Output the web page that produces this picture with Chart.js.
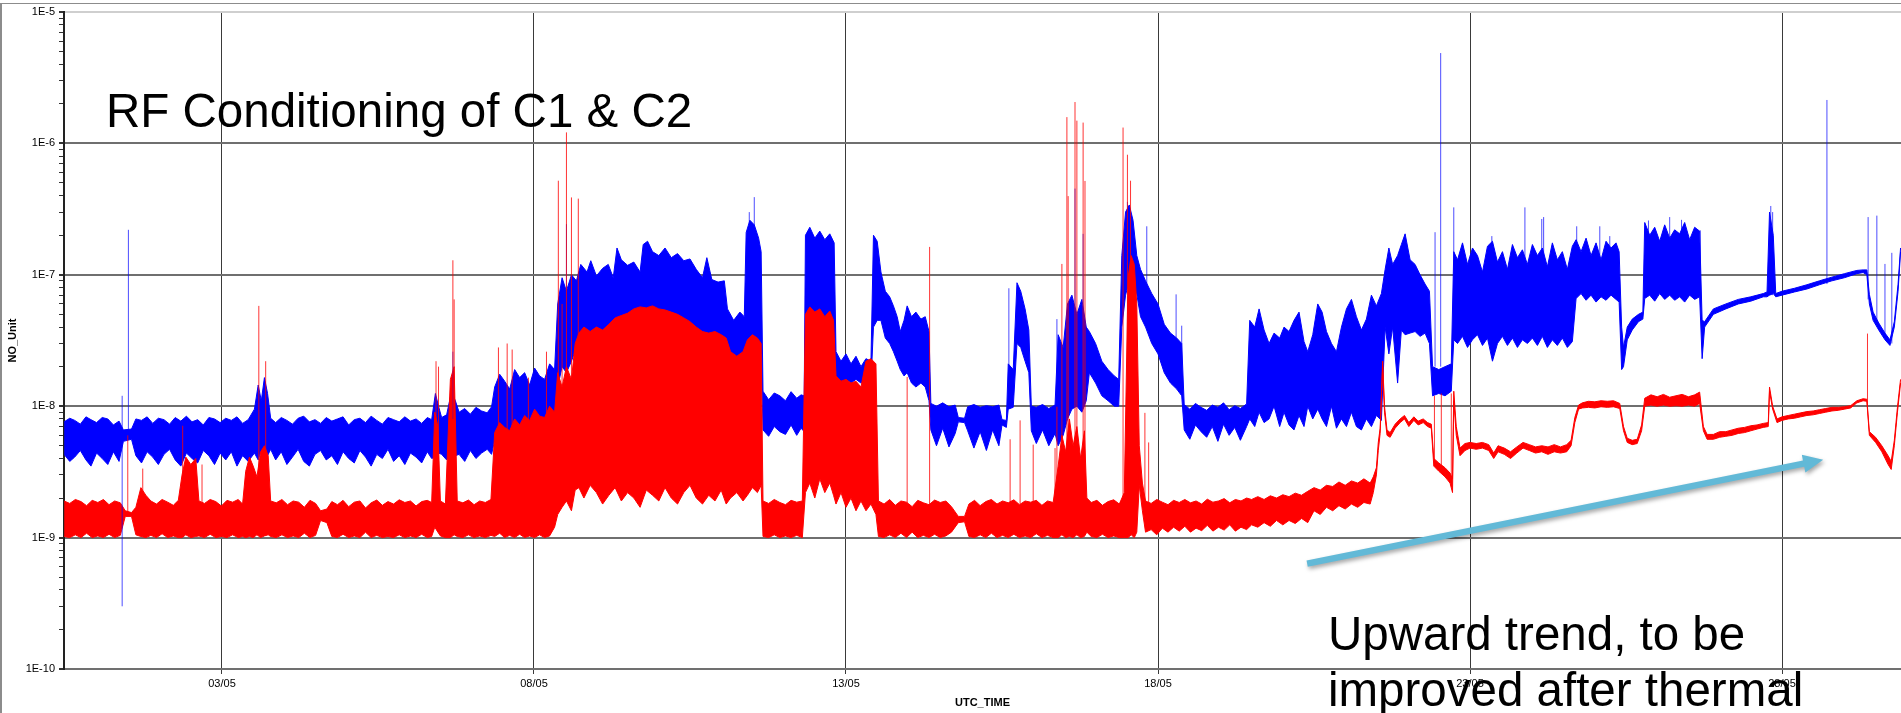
<!DOCTYPE html>
<html>
<head>
<meta charset="utf-8">
<title>RF Conditioning of C1 &amp; C2</title>
<script src="https://cdn.jsdelivr.net/npm/chart.js@4.4.1/dist/chart.umd.min.js"></script>
<style>
  html, body { margin: 0; padding: 0; background: #fff; overflow: hidden; }
  #frame { position: relative; width: 1901px; height: 713px; overflow: hidden; }
  #frame::before { content: ''; position: absolute; left: 0; top: 3px; right: 0; bottom: 0;
    border-top: 1px solid #8c8c8c; border-left: 2px solid #8c8c8c; }
  #chart { position: absolute; left: 0; top: 0; }
  .note { position: absolute; font-family: 'Liberation Sans', Arial, sans-serif; font-size: 47.5px;
    color: #000; white-space: nowrap; }
</style>
</head>
<body>
<div id="frame">
  <canvas id="chart" width="1901" height="713"></canvas>
  <div class="note" style="left:106px; top:87px; line-height:47.5px;">RF Conditioning of C1 &amp; C2</div>
  <div class="note" style="left:1328px; top:606px; line-height:56px;">Upward trend, to be<br>improved after thermal</div>
</div>
<script>
// time axis: day of May (3 = 03/05 00:00); pressure values in units of 1E-9
const NANO = 1e-9;
const dateTicks = [3, 8, 13, 18, 23, 28];
const dateLabels = ['03/05', '08/05', '13/05', '18/05', '23/05', '28/05'];
const decadeExps = [-10, -9, -8, -7, -6, -5];

// [day, low, high] envelope of the blue trace (C1)
const blueBand = [
  [0.47,4.3,7.6],[0.56,3.8,8.1],[0.64,4.1,7.8],[0.73,4.6,7.3],[0.82,3.9,8.3],[0.9,3.5,7.9],[0.99,4.4,7.5],
  [1.08,4.0,8.2],[1.17,3.6,8.0],[1.26,4.5,7.2],[1.35,3.8,7.7],[1.42,5.4,6.6],[1.55,5.6,6.7],[1.62,4.2,8.0],
  [1.71,3.7,7.8],[1.8,4.5,8.3],[1.89,4.1,7.4],[1.98,3.6,8.1],[2.07,4.3,7.9],[2.16,4.7,7.3],[2.25,3.9,8.2],
  [2.34,3.5,7.7],[2.43,4.4,8.4],[2.52,4.0,7.6],[2.61,3.7,7.9],[2.7,4.6,7.2],[2.79,4.2,8.2],[2.88,3.6,8.0],
  [2.97,4.4,7.5],[3.06,3.9,8.1],[3.15,4.5,7.8],[3.24,3.5,8.3],[3.33,4.2,7.4],[3.42,3.8,7.9],[3.52,4.4,9.5],
  [3.58,3.9,14.5],[3.63,4.6,11.0],[3.68,3.3,16.5],[3.73,4.2,12.5],[3.78,4.7,8.1],[3.86,3.9,7.5],
  [3.95,4.5,8.2],[4.04,3.6,7.8],[4.13,4.1,7.3],[4.22,4.7,8.1],[4.31,3.8,8.4],[4.4,3.5,7.6],[4.49,4.3,7.9],
  [4.58,4.6,7.4],[4.67,3.9,8.2],[4.76,4.2,7.7],[4.85,3.6,8.0],[4.94,4.5,8.3],[5.03,4.0,7.2],[5.12,3.7,7.9],
  [5.21,4.6,8.1],[5.3,4.1,7.5],[5.39,3.5,8.4],[5.48,4.3,7.8],[5.57,4.0,7.3],[5.66,4.7,8.2],[5.75,3.8,7.9],
  [5.84,4.2,7.6],[5.93,3.6,8.3],[6.02,4.4,7.7],[6.11,4.1,8.0],[6.2,3.7,7.4],[6.29,4.5,8.2],[6.36,4.0,7.9],
  [6.42,4.1,12.5],[6.47,4.4,10.0],[6.52,4.3,8.2],[6.6,3.9,8.6],[6.68,4.5,13.0],[6.74,4.2,11.0],[6.8,4.3,9.0],
  [6.89,3.8,9.6],[6.98,4.6,8.7],[7.07,4.0,9.8],[7.16,4.4,9.2],[7.25,4.7,8.9],[7.32,4.3,9.9],[7.37,5.5,14.0],
  [7.45,6.2,17.5],[7.53,5.6,15.5],[7.61,6.5,13.5],[7.69,5.8,19.0],[7.77,6.6,16.5],[7.85,5.9,18.0],
  [7.93,6.4,14.5],[8.01,6.8,19.5],[8.09,6.0,17.0],[8.17,6.6,16.0],[8.25,7.0,21.0],[8.33,6.5,19.0],
  [8.38,14,60],[8.45,20,95],[8.52,18,75],[8.6,22,100],[8.68,28,90],[8.75,30,120],[8.85,32,105],
  [8.91,30,128],[9.0,33,98],[9.1,31,112],[9.19,32,120],[9.27,34,95],[9.33,33,160],[9.4,35,130],
  [9.5,34,118],[9.6,36,125],[9.7,35,105],[9.75,36,170],[9.82,35,180],[9.9,37,150],[10.0,36,140],
  [10.1,37,160],[10.2,36,135],[10.3,37,145],[10.4,36,128],[10.5,35,132],[10.6,34,110],[10.7,33,95],
  [10.77,32,135],[10.85,32,92],[10.95,31,88],[11.05,30,90],[11.1,18,55],[11.2,17,45],[11.3,16,52],
  [11.37,17,48],[11.4,25,210],[11.46,28,260],[11.53,30,240],[11.6,27,190],[11.64,25,150],[11.67,6.6,13.0],
  [11.76,5.9,11.2],[11.85,7.0,12.6],[11.94,6.4,12.0],[12.03,6.1,11.0],[12.12,7.2,12.9],[12.21,6.0,11.5],
  [12.28,6.8,12.2],[12.33,6.4,12.0],[12.35,35,200],[12.42,30,230],[12.5,38,190],[12.58,28,215],
  [12.66,36,185],[12.74,30,205],[12.81,33,175],[12.84,16,26],[12.92,15,22],[13.0,16,25],[13.08,15,21],
  [13.16,16,24],[13.24,15,20],[13.32,16,23],[13.4,15,22],[13.44,40,200],[13.5,45,180],[13.56,45,105],
  [13.63,33,75],[13.7,30,68],[13.76,26,58],[13.82,22,48],[13.87,19,37],[13.93,17,45],[13.98,18,58],
  [14.05,15,48],[14.12,14,52],[14.2,15,46],[14.27,14,48],[14.33,11,37],[14.36,6.6,10.5],[14.45,5.0,10.0],
  [14.55,6.8,10.6],[14.65,4.9,9.9],[14.75,6.2,10.2],[14.8,7.6,8.2],[14.9,7.5,8.1],[14.95,6.5,9.9],
  [15.05,4.8,10.3],[15.15,6.4,9.8],[15.25,4.6,10.1],[15.35,6.6,9.9],[15.45,5.0,10.2],[15.5,7.2,7.9],
  [15.57,6.9,7.8],[15.6,9.5,21],[15.68,9.8,19],[15.74,30,87],[15.8,28,75],[15.87,22,55],[15.93,18,38],
  [15.97,6.5,10.0],[16.05,5.2,9.8],[16.15,6.6,10.3],[16.25,5.0,9.6],[16.35,6.2,10.2],[16.4,5.0,35],
  [16.48,6.0,28],[16.55,8.0,60],[16.62,9.5,70],[16.7,10,50],[16.78,9,65],[16.85,11,40],[16.9,18,37],
  [17.0,15,30],[17.1,12,22],[17.2,11,19],[17.3,10,17],[17.37,10,16],[17.42,40,140],[17.48,70,300],
  [17.54,90,340],[17.6,75,260],[17.66,71,140],[17.72,48,110],[17.8,40,90],[17.9,30,72],[18.0,25,60],
  [18.1,18,42],[18.2,15,36],[18.3,13.5,33],[18.38,12,30],[18.42,6.6,10.3],[18.51,5.6,9.5],[18.6,7.2,10.5],
  [18.69,6.4,9.8],[18.78,5.8,9.3],[18.87,7.0,10.2],[18.96,5.4,9.8],[19.05,7.3,10.6],[19.14,6.0,9.4],
  [19.23,6.9,10.1],[19.32,5.5,9.6],[19.42,7.0,10.4],[19.47,8,45],[19.55,7,40],[19.62,9,55],[19.7,7.5,38],
  [19.78,8,30],[19.86,10,36],[19.95,7,33],[20.02,9,40],[20.1,7.2,37],[20.18,6.6,45],[20.26,8.5,52],
  [20.34,7,31],[20.4,10,26],[20.48,8,35],[20.56,9.5,60],[20.63,8,52],[20.7,7,37],[20.78,10,30],
  [20.86,6.8,26],[20.94,8,40],[21.02,7,55],[21.1,9,65],[21.18,7,48],[21.26,6.6,38],[21.34,8,46],
  [21.42,7,70],[21.5,8.5,58],[21.58,7.8,72],[21.64,40,110],[21.7,25,160],[21.76,40,120],[21.84,15,140],
  [21.9,38,170],[21.96,35,205],[22.04,36,130],[22.12,37,120],[22.2,34,100],[22.28,36,85],[22.35,30,75],
  [22.4,12,20],[22.5,12.5,19],[22.6,12,20],[22.7,13,21],[22.74,32,150],[22.8,30,130],[22.88,34,175],
  [22.96,28,120],[23.04,32,160],[23.12,35,140],[23.2,29,105],[23.28,33,165],[23.36,22,180],[23.44,30,125],
  [23.52,34,150],[23.6,29,110],[23.68,33,170],[23.76,28,135],[23.84,32,155],[23.92,30,120],[24.0,33,170],
  [24.08,29,140],[24.16,34,160],[24.24,28,115],[24.32,32,175],[24.4,29,130],[24.48,33,150],[24.56,28,110],
  [24.64,31,165],[24.7,66,185],[24.78,72,150],[24.86,64,190],[24.94,70,140],[25.02,62,175],[25.1,68,130],
  [25.18,64,180],[25.26,70,160],[25.34,65,175],[25.39,62,150],[25.43,19,40],[25.46,20,28],[25.52,32,40],
  [25.6,38,46],[25.7,44,50],[25.77,46,52],[25.8,66,250],[25.88,70,200],[25.96,63,230],[26.04,72,180],
  [26.12,65,240],[26.2,70,190],[26.28,64,220],[26.36,68,205],[26.44,62,250],[26.52,70,185],[26.6,65,230],
  [26.68,68,215],[26.72,23,45],[26.76,40,44],[26.9,50,55],[27.1,55,60],[27.3,60,65],[27.5,63,68],
  [27.7,68,72],[27.76,68,74],[27.8,70,300],[27.86,72,200],[27.9,68,72],[28.0,70,75],[28.2,74,79],
  [28.4,78,84],[28.6,84,90],[28.8,90,96],[29.0,95,102],[29.2,102,108],[29.3,104,109],[29.36,100,109],
  [29.4,60,71],[29.46,45,52],[29.55,38,43],[29.65,32,36],[29.73,29,32],[29.8,40,44],[29.86,75,85],
  [29.9,150,160]
];

// [day, low, high] envelope of the red trace (C2)
const redBand = [
  [0.47,1.02,1.9],[0.56,1.0,1.82],[0.65,1.05,1.95],[0.74,1.0,1.88],[0.83,1.08,1.75],[0.92,1.0,1.92],
  [1.01,1.03,1.85],[1.1,1.0,1.95],[1.19,1.06,1.78],[1.28,1.0,1.9],[1.37,1.04,1.84],[1.45,1.45,1.6],
  [1.55,1.45,1.55],[1.62,1.05,1.7],[1.7,1.02,2.4],[1.78,1.0,2.1],[1.86,1.04,1.9],[1.95,1.0,1.8],
  [2.04,1.07,1.95],[2.13,1.0,1.86],[2.22,1.03,1.76],[2.3,1.0,1.92],[2.36,1.0,3.0],[2.42,1.05,4.1],
  [2.5,1.0,3.6],[2.58,1.02,4.0],[2.63,1.03,1.9],[2.72,1.0,1.82],[2.81,1.06,1.95],[2.9,1.0,1.88],
  [2.99,1.02,1.74],[3.08,1.0,1.92],[3.17,1.05,1.86],[3.26,1.0,1.95],[3.33,1.02,1.8],[3.38,1.0,3.2],
  [3.44,1.02,4.1],[3.5,1.0,3.5],[3.56,1.05,2.9],[3.62,1.0,4.5],[3.68,1.03,5.0],[3.74,1.05,4.2],
  [3.78,1.02,1.9],[3.87,1.0,1.84],[3.96,1.05,1.95],[4.05,1.0,1.78],[4.14,1.03,1.9],[4.23,1.0,1.86],
  [4.32,1.08,1.7],[4.41,1.0,1.92],[4.5,1.04,1.82],[4.58,1.35,1.6],[4.68,1.3,1.65],[4.76,1.02,1.88],
  [4.85,1.0,1.78],[4.94,1.06,1.92],[5.03,1.0,1.72],[5.12,1.03,1.86],[5.21,1.0,1.9],[5.3,1.1,1.68],
  [5.39,1.0,1.84],[5.48,1.04,1.93],[5.57,1.0,1.76],[5.66,1.02,1.88],[5.75,1.0,1.8],[5.84,1.05,1.94],
  [5.93,1.0,1.85],[6.02,1.03,1.9],[6.11,1.0,1.74],[6.2,1.06,1.88],[6.29,1.0,1.92],[6.36,1.02,1.85],
  [6.41,1.2,9],[6.46,1.1,7],[6.5,1.03,1.9],[6.58,1.0,1.8],[6.66,1.0,16],[6.72,1.05,20],[6.77,1.02,1.9],
  [6.86,1.0,1.84],[6.95,1.05,1.93],[7.04,1.0,1.78],[7.13,1.03,1.9],[7.22,1.0,1.85],[7.31,1.04,1.95],
  [7.37,1.02,6.3],[7.45,1.08,7.5],[7.53,1.0,6.9],[7.61,1.04,6.5],[7.69,1.0,8.0],[7.77,1.06,7.2],
  [7.85,1.0,8.5],[7.93,1.03,7.8],[8.01,1.0,9.5],[8.09,1.05,8.4],[8.17,1.0,8.2],[8.25,1.03,10],
  [8.33,1.2,9.0],[8.38,1.5,18],[8.45,1.7,14],[8.52,1.9,20],[8.6,1.6,16],[8.66,2.3,30],[8.72,2.4,36],
  [8.8,2.0,40],[8.9,2.5,37],[9.0,2.2,40],[9.1,1.8,38],[9.2,2.1,42],[9.3,2.4,47],[9.4,1.9,49],[9.5,2.2,51],
  [9.6,2.0,55],[9.7,1.7,57],[9.8,2.3,56],[9.9,2.1,58],[10.0,1.9,55],[10.1,2.4,54],[10.2,2.0,52],
  [10.3,1.8,50],[10.4,2.2,47],[10.5,2.5,44],[10.6,2.0,40],[10.7,1.8,37],[10.8,2.1,36],[10.9,1.9,37],
  [11.0,2.3,35],[11.08,1.8,33],[11.15,2.0,26],[11.25,2.2,24],[11.35,1.9,26],[11.42,2.1,32],[11.5,2.4,35],
  [11.58,2.2,33],[11.64,2.5,30],[11.67,1.02,1.9],[11.76,1.0,1.82],[11.85,1.05,1.95],[11.94,1.0,1.85],
  [12.03,1.03,1.78],[12.12,1.0,1.92],[12.21,1.04,1.86],[12.3,1.0,1.9],[12.35,2.2,50],[12.42,2.6,57],
  [12.5,2.0,52],[12.58,2.8,55],[12.66,2.2,48],[12.74,2.6,53],[12.8,2.1,45],[12.84,1.8,17],[12.92,2.2,15.5],
  [13.0,1.7,16],[13.08,2.0,15],[13.16,1.6,15.5],[13.24,1.9,14],[13.32,1.6,22],[13.4,1.8,23],[13.48,1.5,21],
  [13.52,1.02,1.9],[13.61,1.0,1.8],[13.7,1.05,1.95],[13.79,1.0,1.76],[13.88,1.08,1.9],[13.97,1.0,1.86],
  [14.06,1.1,1.72],[14.15,1.0,1.92],[14.24,1.04,1.84],[14.33,1.0,1.78],[14.42,1.06,1.93],[14.51,1.0,1.85],
  [14.6,1.03,1.9],[14.69,1.1,1.72],[14.8,1.3,1.45],[14.9,1.32,1.45],[14.97,1.02,1.8],[15.06,1.0,1.92],
  [15.15,1.05,1.75],[15.24,1.0,1.88],[15.33,1.08,1.95],[15.42,1.0,1.8],[15.51,1.04,1.9],[15.6,1.0,1.84],
  [15.69,1.06,1.94],[15.78,1.0,1.78],[15.87,1.03,1.9],[15.96,1.0,1.86],[16.05,1.07,1.92],[16.14,1.0,1.76],
  [16.23,1.04,1.9],[16.32,1.0,1.85],[16.4,1.0,3.5],[16.46,1.05,6],[16.52,1.0,4.5],[16.58,1.02,8],
  [16.64,1.0,5],[16.7,1.05,7],[16.76,1.0,4],[16.82,1.02,6.5],[16.86,1.1,2.0],[16.93,1.02,1.85],
  [17.02,1.0,1.92],[17.11,1.06,1.76],[17.2,1.0,1.88],[17.29,1.03,1.94],[17.38,1.0,1.8],[17.46,1.0,2.2],
  [17.52,1.0,95],[17.57,1.05,140],[17.62,1.0,120],[17.66,1.1,60],[17.7,2.5,5],[17.75,1.6,2.6],
  [17.8,1.1,1.9],[17.89,1.15,1.82],[17.98,1.05,1.95],[18.07,1.18,1.86],[18.16,1.1,1.78],[18.25,1.2,1.92],
  [18.34,1.12,1.85],[18.43,1.22,1.95],[18.52,1.1,1.84],[18.61,1.18,1.9],[18.7,1.13,1.8],[18.79,1.24,1.96],
  [18.88,1.12,1.86],[18.97,1.2,1.9],[19.06,1.14,1.98],[19.15,1.25,1.84],[19.24,1.12,1.95],[19.33,1.2,1.9],
  [19.42,1.15,2.0],[19.5,1.25,1.95],[19.6,1.2,2.05],[19.7,1.3,1.95],[19.8,1.22,2.08],[19.9,1.35,2.0],
  [20.0,1.25,2.12],[20.1,1.35,2.05],[20.2,1.28,2.18],[20.3,1.4,2.1],[20.4,1.3,2.25],[20.5,1.6,2.4],
  [20.6,1.5,2.3],[20.7,1.7,2.5],[20.8,1.6,2.45],[20.9,1.75,2.65],[21.0,1.65,2.5],[21.1,1.8,2.7],
  [21.2,1.7,2.6],[21.3,1.85,2.8],[21.4,1.8,2.6],[21.45,2.2,2.9],[21.5,3.0,3.4],[21.53,4.6,5.3],
  [21.56,6.2,6.8],[21.6,20,22],[21.63,9,10],[21.67,6.0,6.6],[21.72,5.8,6.3],[21.8,6.8,7.3],[21.88,7.5,8.0],
  [21.95,8.0,8.5],[22.02,7.0,7.5],[22.1,7.8,8.3],[22.17,7.2,7.7],[22.25,7.5,8.0],[22.32,7.0,7.5],
  [22.38,6.8,7.3],[22.42,3.5,4.0],[22.5,3.2,3.7],[22.6,2.9,3.4],[22.68,2.6,3.1],[22.72,2.2,2.8],
  [22.74,11,13],[22.78,6.0,7.0],[22.84,4.2,4.8],[22.92,4.6,5.2],[23.0,4.8,5.3],[23.1,4.7,5.2],
  [23.2,4.8,5.3],[23.3,4.6,5.1],[23.38,4.0,4.4],[23.45,4.5,5.0],[23.55,4.3,4.8],[23.65,4.0,4.5],
  [23.75,4.4,4.9],[23.85,4.8,5.3],[23.95,4.6,5.1],[24.05,4.4,4.9],[24.15,4.5,5.0],[24.25,4.3,4.9],
  [24.35,4.5,5.1],[24.45,4.4,4.9],[24.55,4.5,5.1],[24.62,5.0,5.5],[24.68,7.5,8.2],[24.74,9.5,10.2],
  [24.8,9.7,10.6],[24.9,9.8,10.9],[25.0,9.7,10.8],[25.1,9.9,11],[25.2,9.8,10.9],[25.3,9.9,11],
  [25.4,9.6,10.5],[25.46,6.5,7.0],[25.52,5.3,5.7],[25.6,5.1,5.5],[25.68,5.2,5.6],[25.75,6.5,7.2],
  [25.8,10,11.5],[25.9,10.2,12.2],[26.0,10,11.8],[26.1,10.2,12.3],[26.2,10,11.7],[26.3,10.1,12],
  [26.4,10,12.3],[26.5,10.2,11.8],[26.6,10,12.2],[26.68,10.5,12.8],[26.74,6.5,7.0],[26.8,5.6,6.1],
  [26.9,5.6,6.1],[27.0,5.8,6.4],[27.1,5.9,6.4],[27.2,6.0,6.6],[27.3,6.2,6.8],[27.4,6.3,6.9],[27.5,6.5,7.1],
  [27.6,6.7,7.2],[27.7,6.9,7.4],[27.78,7.0,7.5],[27.8,13,14],[27.85,9.5,10],[27.92,7.5,8.0],[28.0,7.8,8.3],
  [28.1,8.0,8.5],[28.2,8.1,8.7],[28.3,8.3,8.9],[28.4,8.5,9.1],[28.5,8.6,9.2],[28.6,8.8,9.4],[28.7,9.0,9.6],
  [28.8,9.2,9.8],[28.9,9.3,9.8],[29.0,9.5,9.9],[29.1,9.7,10.1],[29.2,10.6,11.0],[29.3,11.0,11.4],
  [29.36,10.9,11.3],[29.4,6.0,6.4],[29.5,5.3,5.8],[29.6,4.5,5.0],[29.7,3.6,4.2],[29.75,3.3,3.8],
  [29.8,5.0,5.5],[29.85,9.0,9.8],[29.9,15,16]
];

// isolated excursions: [day, from, to]
const blueSpikes = [
  [1.40,0.30,12],[1.50,6,220],[6.70,8,26],[8.52,60,243],[11.45,100,300],[11.53,100,390],[15.61,20,79],
  [16.38,10,46],[16.67,40,453],[16.80,40,205],[17.51,200,359],[17.82,60,234],[18.29,20,71],[18.38,15,41],
  [22.44,20,211],[22.53,20,4870],[22.74,50,326],[23.35,60,197],[23.88,60,326],[24.15,60,266],
  [24.18,60,275],[24.71,80,234],[25.08,80,234],[25.24,80,197],[25.86,80,259],[26.2,80,275],[26.39,80,262],
  [26.69,80,218],[27.82,70,334],[27.85,70,300],[28.72,85,2140],[29.38,65,275],[29.52,42,282],
  [29.65,33,121],[29.76,30,147]
];
const redSpikes = [
  [1.49,1.5,6],[1.73,1.2,3.35],[2.37,1.2,7.1],[2.68,1.2,3.6],[3.59,1.5,58],[3.70,2,22],[6.43,2,22],
  [6.47,2,20],[6.70,2,129],[6.72,2,65],[7.43,2,28],[7.57,2,30],[7.65,2,27],[7.91,2,16.5],[8.20,2,26],
  [8.39,2,520],[8.45,2,60],[8.52,2,1213],[8.60,2,388],[8.71,3,380],[13.98,1.5,16.7],[14.34,1.5,163],
  [15.63,1.5,5.6],[15.79,1.5,7.8],[16.0,1.5,5.1],[16.35,1.5,4.8],[16.38,1.5,9.9],[16.46,1.5,121],
  [16.54,1.5,1585],[16.56,1.5,397],[16.67,1.5,2065],[16.70,1.5,1490],[16.80,1.5,1440],[16.83,1.5,518],
  [17.44,1.5,1320],[17.51,1.5,820],[17.56,1.5,520],[17.79,1.5,8.9],[17.85,1.5,5.3],[22.43,3.5,12],
  [22.54,3.2,12.5],[22.70,2.5,12.5],[29.37,10,35.7]
];

// trend arrow annotation, [day, value]
const arrowFrom = [20.39, 0.634];
const arrowTo = [28.66, 3.92];

const BLUE = '#0000ff';
const RED = '#ff0000';

function edge(band, k) {
  return band.map(p => ({ x: p[0], y: p[k] * NANO }));
}

function spikeSegments(spikes) {
  const pts = [];
  spikes.forEach(s => {
    pts.push({ x: s[0], y: s[1] * NANO }, { x: s[0], y: s[2] * NANO }, { x: s[0], y: null });
  });
  return pts;
}

function isDecade(v) {
  const l = Math.log10(v);
  return Math.abs(l - Math.round(l)) < 1e-6;
}

const lineBase = { pointRadius: 0, borderWidth: 1, tension: 0, spanGaps: false };

const arrowPlugin = {
  id: 'trendArrow',
  afterDraw(chart) {
    const { ctx, scales: { x, y } } = chart;
    const x0 = x.getPixelForValue(arrowFrom[0]), y0 = y.getPixelForValue(arrowFrom[1] * NANO);
    const x1 = x.getPixelForValue(arrowTo[0]), y1 = y.getPixelForValue(arrowTo[1] * NANO);
    const ang = Math.atan2(y1 - y0, x1 - x0);
    const c = Math.cos(ang), s = Math.sin(ang);
    const nx = -s, ny = c;
    const headLen = 20, headHalf = 9, half = 3.2;
    const bx = x1 - headLen * c, by = y1 - headLen * s;
    ctx.save();
    ctx.shadowColor = 'rgba(0,0,0,0.35)';
    ctx.shadowBlur = 4;
    ctx.shadowOffsetX = 1.5;
    ctx.shadowOffsetY = 2.5;
    ctx.fillStyle = '#62b9d7';
    ctx.beginPath();
    ctx.moveTo(x0 + nx * half, y0 + ny * half);
    ctx.lineTo(bx + nx * half, by + ny * half);
    ctx.lineTo(bx + nx * headHalf, by + ny * headHalf);
    ctx.lineTo(x1, y1);
    ctx.lineTo(bx - nx * headHalf, by - ny * headHalf);
    ctx.lineTo(bx - nx * half, by - ny * half);
    ctx.lineTo(x0 - nx * half, y0 - ny * half);
    ctx.closePath();
    ctx.fill();
    ctx.restore();
  }
};

const tickFont = { family: "'Liberation Sans', Arial, sans-serif", size: 11 };
const titleFont = { family: "'Liberation Sans', Arial, sans-serif", size: 11, weight: 'bold' };

new Chart(document.getElementById('chart'), {
  type: 'line',
  data: {
    datasets: [
      { ...lineBase, data: edge(redBand, 2), borderColor: RED, fill: false },
      { ...lineBase, data: edge(redBand, 1), borderColor: RED, backgroundColor: RED, fill: '-1' },
      { ...lineBase, data: spikeSegments(redSpikes), borderColor: 'rgba(255,0,0,0.8)', fill: false, order: -1 },
      { ...lineBase, data: edge(blueBand, 2), borderColor: BLUE, fill: false },
      { ...lineBase, data: edge(blueBand, 1), borderColor: BLUE, backgroundColor: BLUE, fill: '-1' },
      { ...lineBase, data: spikeSegments(blueSpikes), borderColor: 'rgba(0,0,255,0.7)', fill: false, order: -1 },
    ],
  },
  options: {
    responsive: false,
    animation: false,
    parsing: false,
    events: [],
    layout: { padding: { top: 12, left: 0, right: 0, bottom: 0 } },
    plugins: { legend: { display: false }, tooltip: { enabled: false } },
    scales: {
      x: {
        type: 'linear',
        min: 0.468,
        max: 29.907,
        afterFit: (scale) => { scale.height = 44; },
        afterBuildTicks: (scale) => { scale.ticks = dateTicks.map(v => ({ value: v })); },
        ticks: {
          autoSkip: false,
          maxRotation: 0,
          padding: 3,
          color: '#000',
          font: tickFont,
          callback: (value) => dateLabels[dateTicks.indexOf(value)],
        },
        grid: { color: '#3a3a3a', lineWidth: 1, tickLength: 5, tickColor: '#3a3a3a' },
        border: { color: '#707070', width: 2 },
        title: { display: true, text: 'UTC_TIME', color: '#000', font: titleFont, padding: { top: 0, bottom: 3 } },
      },
      y: {
        type: 'logarithmic',
        min: 1e-10,
        max: 1e-5,
        afterFit: (scale) => { scale.width = 64; },
        afterBuildTicks: (scale) => {
          const ticks = [];
          decadeExps.forEach(e => {
            if (e === -5) { ticks.push({ value: 1e-5 }); return; }
            for (let m = 1; m <= 9; m++) {
              ticks.push({ value: Number((m * Math.pow(10, e)).toPrecision(3)) });
            }
          });
          scale.ticks = ticks;
        },
        ticks: {
          autoSkip: false,
          padding: 4,
          color: '#000',
          font: tickFont,
          callback: (value) => isDecade(value) ? '1E' + Math.round(Math.log10(value)) : '',
        },
        grid: {
          tickLength: 5,
          lineWidth: (ctx) => (ctx.tick && isDecade(ctx.tick.value)) ? 2 : 1,
          color: (ctx) => {
            if (!ctx.tick || !isDecade(ctx.tick.value)) return 'rgba(0,0,0,0)';
            return ctx.tick.value >= 1e-5 ? '#cfcfcf' : '#6f6f6f';
          },
          tickColor: '#333',
        },
        border: { color: '#222', width: 2 },
        title: { display: true, text: 'NO_Unit', color: '#000', font: titleFont, padding: { top: 6, bottom: 0 } },
      },
    },
  },
  plugins: [arrowPlugin],
});
</script>
</body>
</html>
